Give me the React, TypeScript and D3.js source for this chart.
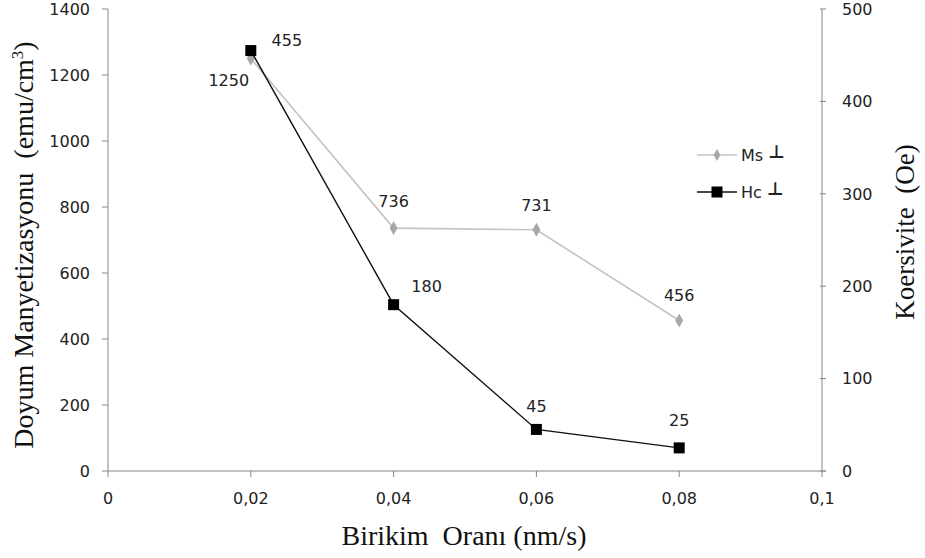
import React from "react";
import * as d3 from "d3";

const rates = [0.02, 0.04, 0.06, 0.08];
const msValues = [1250, 736, 731, 456];
const hcValues = [455, 180, 45, 25];
const xTicks = [0, 0.02, 0.04, 0.06, 0.08, 0.1];
const xTickLabels = ["0", "0,02", "0,04", "0,06", "0,08", "0,1"];
const leftTicks = [0, 200, 400, 600, 800, 1000, 1200, 1400];
const rightTicks = [0, 100, 200, 300, 400, 500];

const W = 925, H = 558;
const L = 108, R = 822, T = 9, B = 471;

export default function App() {
  const x = d3.scaleLinear().domain([0, 0.1]).range([L, R]);
  const yL = d3.scaleLinear().domain([0, 1400]).range([B, T]);
  const yR = d3.scaleLinear().domain([0, 500]).range([B, T]);
  const msLine = d3.line<number>().x((_, i) => x(rates[i])).y((d) => yL(d));
  const hcLine = d3.line<number>().x((_, i) => x(rates[i])).y((d) => yR(d));
  const axisColor = "#868686";
  const tickFont = "'DejaVu Sans', Verdana, sans-serif";
  const titleFont = "'Liberation Serif', 'Times New Roman', serif";
  const msOff = [[-22, 22], [0, -27], [0, -25], [0, -25]];
  const hcOff = [[36, -10], [33, -18], [0, -23], [0, -28]];
  return (
    <svg width={W} height={H} style={{ position: "absolute", left: 0, top: 0, background: "#fff" }}>
      {/* axes */}
      <line x1={L} y1={T} x2={L} y2={B} stroke={axisColor} />
      <line x1={R} y1={T} x2={R} y2={B} stroke={axisColor} />
      <line x1={L} y1={B} x2={R + 4} y2={B} stroke={axisColor} />
      {leftTicks.map((t) => (
        <g key={"l" + t}>
          <line x1={L - 6} x2={L} y1={yL(t)} y2={yL(t)} stroke={axisColor} />
          <text x={L - 18} y={yL(t)} dy="0.36em" textAnchor="end" fontFamily={tickFont} fontSize={16} fill="#222">{t}</text>
        </g>
      ))}
      {rightTicks.map((t) => (
        <g key={"r" + t}>
          <line x1={R - 2} x2={R + 4} y1={yR(t)} y2={yR(t)} stroke={axisColor} />
          <text x={R + 20} y={yR(t)} dy="0.36em" textAnchor="start" fontFamily={tickFont} fontSize={16} fill="#222">{t}</text>
        </g>
      ))}
      {xTicks.map((t, i) => (
        <g key={"x" + t}>
          <line x1={x(t)} x2={x(t)} y1={B} y2={B + 6} stroke={axisColor} />
          <text x={x(t)} y={504} textAnchor="middle" fontFamily={tickFont} fontSize={16} fill="#222">{xTickLabels[i]}</text>
        </g>
      ))}
      {/* titles */}
      <text transform={`translate(33,${(T + B) / 2 + 5}) rotate(-90)`} textAnchor="middle" fontFamily={titleFont} fontSize={28} fill="#111" style={{ whiteSpace: "pre" }}>
        {"Doyum Manyetizasyonu  (emu/cm"}<tspan dy="-10" fontSize={17}>3</tspan><tspan dy="10">)</tspan>
      </text>
      <text transform={`translate(914,${(T + B) / 2 - 8}) rotate(-90)`} textAnchor="middle" fontFamily={titleFont} fontSize={27} fill="#111" style={{ whiteSpace: "pre" }}>
        {"Koersivite  (Oe)"}
      </text>
      <text x={464} y={545} textAnchor="middle" fontFamily={titleFont} fontSize={28} fill="#111" style={{ whiteSpace: "pre" }}>
        {"Birikim  Oranı (nm/s)"}
      </text>
      {/* Ms series */}
      <path d={msLine(msValues) || ""} fill="none" stroke="#c3c3c3" strokeWidth={1.6} />
      {msValues.map((v, i) => (
        <g key={"ms" + i}>
          <path d={d3.symbol(d3.symbolDiamond, 55)() || ""} transform={`translate(${x(rates[i])},${yL(v)})`} fill="#a8a8a8" />
          <text x={x(rates[i]) + msOff[i][0]} y={yL(v) + msOff[i][1]} dy="0.36em" textAnchor="middle" fontFamily={tickFont} fontSize={16} fill="#222">{v}</text>
        </g>
      ))}
      {/* Hc series */}
      <path d={hcLine(hcValues) || ""} fill="none" stroke="#111" strokeWidth={1.4} />
      {hcValues.map((v, i) => (
        <g key={"hc" + i}>
          <rect x={x(rates[i]) - 5.5} y={yR(v) - 5.5} width={11} height={11} fill="#000" />
          <text x={x(rates[i]) + hcOff[i][0]} y={yR(v) + hcOff[i][1]} dy="0.36em" textAnchor="middle" fontFamily={tickFont} fontSize={16} fill="#222">{v}</text>
        </g>
      ))}
      {/* legend */}
      <line x1={697} x2={737} y1={155} y2={155} stroke="#c3c3c3" strokeWidth={1.6} />
      <path d={d3.symbol(d3.symbolDiamond, 40)() || ""} transform="translate(717,155)" fill="#a8a8a8" />
      <text x={741} y={155} dy="0.36em" fontFamily={tickFont} fontSize={16} fill="#222">Ms <tspan fontSize={18} fontWeight="bold" dy="-3">⊥</tspan></text>
      <line x1={697} x2={737} y1={192} y2={192} stroke="#111" strokeWidth={1.4} />
      <rect x={711.5} y={186.5} width={11} height={11} fill="#000" />
      <text x={741} y={192} dy="0.36em" fontFamily={tickFont} fontSize={16} fill="#222">Hc <tspan fontSize={18} fontWeight="bold" dy="-3">⊥</tspan></text>
    </svg>
  );
}
